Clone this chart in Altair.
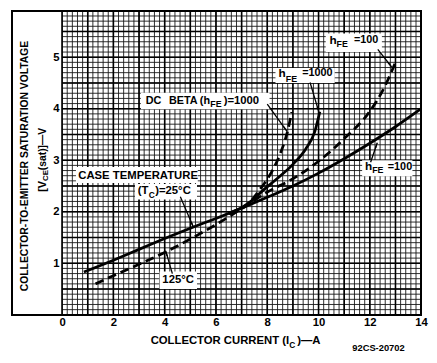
import math
import altair as alt
import pandas as pd

# ---------------- curve data ----------------
ic_25_h100 = [0.85, 2, 3, 4, 5, 6, 7, 8, 9, 10, 11, 12, 13, 14]
vce_25_h100 = [0.83, 1.06, 1.27, 1.48, 1.68, 1.87, 2.07, 2.28, 2.50, 2.75, 3.03, 3.33, 3.65, 4.00]

ic_125_h100 = [1.3, 2, 3, 4, 5, 6, 7, 8, 9, 10, 11, 12, 12.5, 13]
vce_125_h100 = [0.60, 0.76, 0.98, 1.21, 1.47, 1.75, 2.06, 2.38, 2.64, 2.98, 3.42, 3.95, 4.35, 4.90]

ic_25_h1000 = [6.5, 7.0, 7.36, 7.8, 8.4, 9.0, 9.5, 9.85, 10.05]
vce_25_h1000 = [1.97, 2.08, 2.20, 2.40, 2.65, 2.92, 3.22, 3.55, 3.94]

ic_125_h1000 = [6.5, 7.0, 7.36, 7.6, 7.9, 8.2, 8.5, 8.77, 8.96]
vce_125_h1000 = [1.96, 2.07, 2.20, 2.36, 2.56, 2.80, 3.12, 3.52, 3.94]

# ---------------- annotation data ----------------
box_x1 = [10.28, 8.32, 3.07, 0.54, 2.84, 3.80, 11.70]
box_x2 = [12.47, 10.63, 8.09, 5.29, 5.26, 5.26, 13.66]
box_y1 = [5.10, 4.50, 3.99, 2.56, 2.24, 0.50, 2.69]
box_y2 = [5.46, 4.79, 4.31, 2.87, 2.54, 0.84, 3.00]

ann_text = ["h", "FE", "=100",
            "h", "FE", "=1000",
            "DC", "BETA", "(h", "FE", ")=1000",
            "CASE TEMPERATURE",
            "(T", "C", ")=25°C",
            "125°C",
            "h", "FE", "=100"]
ann_x = [10.43, 10.70, 11.38,
         8.44, 8.72, 9.36,
         3.26, 4.17, 5.37, 5.78, 6.30,
         0.63,
         2.95, 3.38, 3.63,
         3.91,
         11.81, 12.09, 12.70]
ann_y = [5.33, 5.25, 5.34,
         4.69, 4.58, 4.69,
         4.15, 4.15, 4.15, 4.09, 4.15,
         2.70,
         2.40, 2.32, 2.40,
         0.68,
         2.88, 2.81, 2.87]
ann_size = [12, 9, 11,
            12, 9, 11,
            11, 11, 11, 9, 11.5,
            11.5,
            11.5, 8.5, 11.5,
            11.5,
            12, 9, 11]

arrow_x1 = [12.31, 9.67, 8.00, 4.61, 4.30, 12.03]
arrow_y1 = [5.15, 4.51, 4.09, 2.29, 0.80, 2.96]
arrow_x2 = [12.85, 10.01, 8.77, 5.13, 4.04, 12.29]
arrow_y2 = [4.81, 3.94, 3.56, 1.69, 1.24, 3.34]

x_tick_labels = [0, 2, 4, 6, 8, 10, 12, 14]
y_tick_labels = [1, 2, 3, 4, 5]

# ---------------- layout ----------------
W, H = 365, 309
XMAX, YMAX = 14, 5.9
XS, YS = W / XMAX, H / YMAX
FONT = "Liberation Sans"

# graph-paper rulings (axis structure): 0.2 A and 0.1 V fine, 1 A and 0.5 V heavy
grid_x_fine = [round(0.2 * i, 1) for i in range(71)]
grid_y_fine = [round(0.1 * i, 1) for i in range(60)]
grid_x_major = list(range(15))
grid_y_major = [0.5 * i for i in range(12)]

# ---------------- tables ----------------
rows = []
for name, dash, xs_, ys_ in [("25C_100", "solid", ic_25_h100, vce_25_h100),
                             ("125C_100", "dash", ic_125_h100, vce_125_h100),
                             ("25C_1000", "solid", ic_25_h1000, vce_25_h1000),
                             ("125C_1000", "dash", ic_125_h1000, vce_125_h1000)]:
    for a, b in zip(xs_, ys_):
        rows.append({"ic": a, "vce": b, "series": name, "style": dash})
curves = pd.DataFrame(rows)

boxes = pd.DataFrame({"x1": box_x1, "x2": box_x2, "y1": box_y1, "y2": box_y2})
ann = pd.DataFrame({"t": ann_text, "x": ann_x, "y": ann_y, "s": ann_size})
arrows = pd.DataFrame({"x1": arrow_x1, "y1": arrow_y1, "x2": arrow_x2, "y2": arrow_y2})

heads = []
for a, b, c, d in zip(arrow_x1, arrow_y1, arrow_x2, arrow_y2):
    dxp = (c - a) * XS
    dyp = -(d - b) * YS
    L = math.hypot(dxp, dyp)
    ux, uy = dxp / L, dyp / L
    ang = math.degrees(math.atan2(ux, -uy)) % 360
    heads.append({"x": c - 3.5 * ux / XS, "y": d + 3.5 * uy / YS, "ang": ang})
heads = pd.DataFrame(heads)

gxf = pd.DataFrame({"g": grid_x_fine})
gyf = pd.DataFrame({"g": grid_y_fine})
gxm = pd.DataFrame({"g": grid_x_major})
gym = pd.DataFrame({"g": grid_y_major})

# pixel-positioned titles (relative to plot origin)
titles = pd.DataFrame([
    {"t": "COLLECTOR-TO-EMITTER SATURATION VOLTAGE", "px": -38, "py": 285, "s": 10.5, "a": 270},
    {"t": "[V", "px": -19, "py": 184, "s": 11, "a": 270},
    {"t": "CE", "px": -16, "py": 173, "s": 8, "a": 270},
    {"t": " (sat)]—V", "px": -19, "py": 162, "s": 10.5, "a": 270},
    {"t": "COLLECTOR CURRENT (I", "px": 90, "py": 336, "s": 11.5, "a": 0},
    {"t": "C", "px": 231, "py": 340, "s": 8.5, "a": 0},
    {"t": ")—A", "px": 239, "py": 336, "s": 11.5, "a": 0},
    {"t": "92CS-20702", "px": 295, "py": 343, "s": 9.5, "a": 0},
])

x_axis = alt.Axis(
    values=x_tick_labels, grid=False, ticks=False, domain=False, title=None,
    labelFlush=False, labelOverlap=False, labelFont=FONT, labelFontWeight="bold",
    labelFontSize=11.5, labelColor="black", labelPadding=2, format="d",
)
y_axis = alt.Axis(
    values=y_tick_labels, grid=False, ticks=False, domain=False, title=None,
    labelFlush=False, labelOverlap=False, labelFont=FONT, labelFontWeight="bold",
    labelFontSize=11.5, labelColor="black", labelPadding=3, format="d",
)

xs = alt.Scale(domain=[0, XMAX], nice=False, zero=False)
ys = alt.Scale(domain=[0, YMAX], nice=False, zero=False)


def X(f):
    return alt.X(f, scale=xs, axis=x_axis)


def Y(f):
    return alt.Y(f, scale=ys, axis=y_axis)


vfine = alt.Chart(gxf).mark_rule(color="#151515", strokeWidth=0.9).encode(x=X("g:Q"))
hfine = alt.Chart(gyf).mark_rule(color="#151515", strokeWidth=0.9).encode(y=Y("g:Q"))
vmaj = alt.Chart(gxm).mark_rule(color="black", strokeWidth=1.6).encode(x=X("g:Q"))
hmaj = alt.Chart(gym).mark_rule(color="black", strokeWidth=1.6).encode(y=Y("g:Q"))

box_layer = alt.Chart(boxes).mark_rect(color="white").encode(
    x=X("x1:Q"), x2="x2:Q", y=Y("y1:Q"), y2="y2:Q"
)

solid = alt.Chart(curves).transform_filter(alt.datum.style == "solid").mark_line(
    color="black", strokeWidth=2.8, interpolate="monotone"
).encode(x=X("ic:Q"), y=Y("vce:Q"), detail="series:N")

dashed = alt.Chart(curves).transform_filter(alt.datum.style == "dash").mark_line(
    color="black", strokeWidth=2.8, interpolate="monotone", strokeDash=[9, 5]
).encode(x=X("ic:Q"), y=Y("vce:Q"), detail="series:N")

arrow_layer = alt.Chart(arrows).mark_rule(color="black", strokeWidth=1.3).encode(
    x=X("x1:Q"), y=Y("y1:Q"), x2="x2:Q", y2="y2:Q"
)
head_layer = alt.Chart(heads).mark_point(shape="wedge", filled=True, color="black", size=45, opacity=1).encode(
    x=X("x:Q"), y=Y("y:Q"), angle=alt.Angle("ang:Q", scale=None)
)

ann_layer = alt.Chart(ann).mark_text(
    align="left", baseline="middle", font=FONT, fontWeight="bold", color="black"
).encode(
    x=X("x:Q"), y=Y("y:Q"), text="t:N", size=alt.Size("s:Q", scale=None)
)

frame = alt.Chart(boxes).mark_rect(filled=False, stroke="black", strokeWidth=1.6).encode(
    x=alt.value(-51), x2=alt.value(W), y=alt.value(0), y2=alt.value(H)
)

title_layer = alt.Chart(titles).mark_text(
    align="left", baseline="middle", font=FONT, fontWeight="bold", color="black"
).encode(
    x=alt.X("px:Q", scale=None, axis=None), y=alt.Y("py:Q", scale=None, axis=None),
    text="t:N", size=alt.Size("s:Q", scale=None), angle=alt.Angle("a:Q", scale=None)
)

chart = alt.layer(
    vfine, hfine, vmaj, hmaj, box_layer, solid, dashed, arrow_layer, head_layer,
    ann_layer, frame, title_layer
).properties(
    width=W, height=H,
    autosize=alt.AutoSizeParams(type="none"),
    padding={"left": 55, "top": 0, "right": 8, "bottom": 38},
    background="white",
).configure_view(stroke=None)

chart.save("out.html", embed_options={"renderer": "svg", "actions": False})
